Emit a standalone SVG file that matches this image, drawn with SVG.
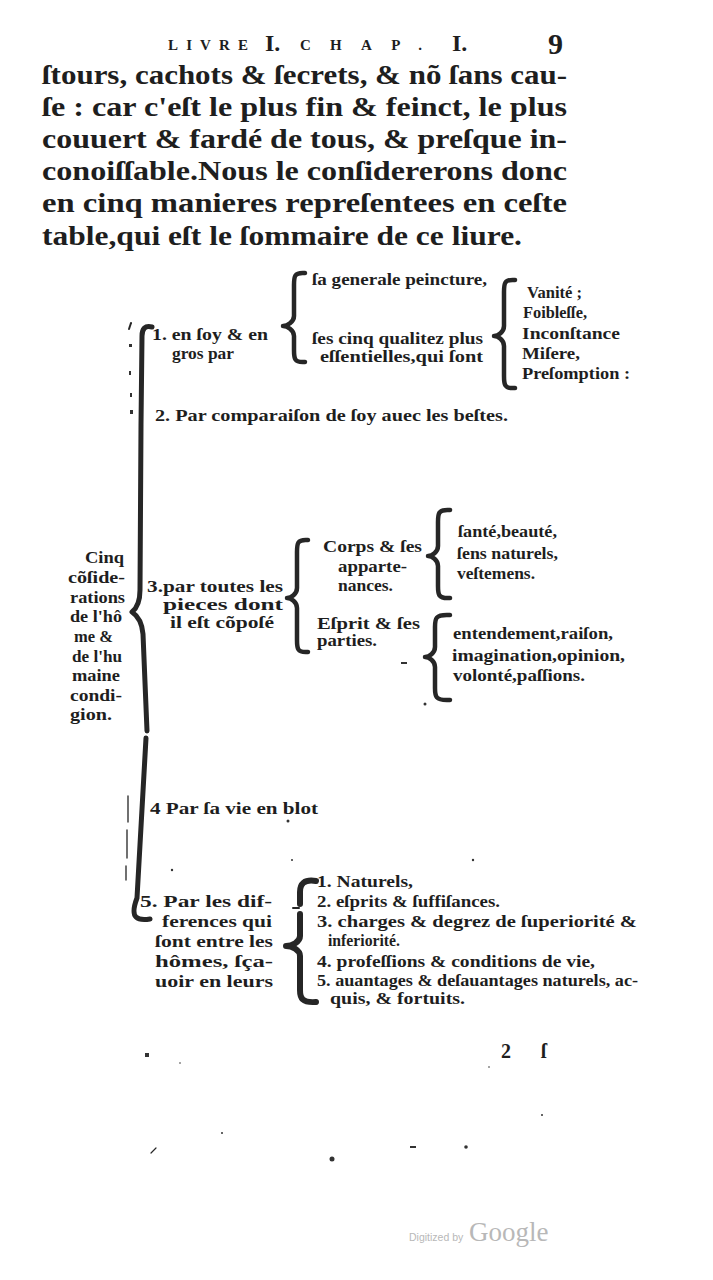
<svg xmlns="http://www.w3.org/2000/svg" width="713" height="1280" viewBox="0 0 713 1280">
<style>
text{font-family:"Liberation Serif","DejaVu Serif",serif;font-weight:bold;fill:#1e1e1e}
.body{font-size:28px}
.s{font-size:16px}
.hd{font-size:15px}
.br{fill:none;stroke:#262626;stroke-width:4.5;stroke-linecap:round;stroke-linejoin:round}
.speck{fill:#333}
.gg{font-family:"Liberation Serif",serif;font-weight:normal;fill:#b8b8b8}
.gs{font-family:"Liberation Sans",sans-serif;font-weight:normal;fill:#b8b8b8}
</style>
<rect width="713" height="1280" fill="#fff"/>

<g id="header">
<text class="hd" x="168" y="50" textLength="80" lengthAdjust="spacing">LIVRE</text>
<text x="265" y="51" font-size="24">I.</text>
<text class="hd" x="300" y="50" textLength="122" lengthAdjust="spacing">CHAP.</text>
<text x="452" y="51" font-size="24">I.</text>
<text x="548" y="54" font-size="30">9</text>
</g>

<g id="intro">
<text class="body" x="42" y="84" textLength="525" lengthAdjust="spacingAndGlyphs">ſtours, cachots &amp; ſecrets, &amp; nõ ſans cau-</text>
<text class="body" x="42" y="116" textLength="525" lengthAdjust="spacingAndGlyphs">ſe : car c'eſt le plus fin &amp; feinct, le plus</text>
<text class="body" x="42" y="148" textLength="525" lengthAdjust="spacingAndGlyphs">couuert &amp; fardé de tous, &amp; preſque in-</text>
<text class="body" x="42" y="180" textLength="525" lengthAdjust="spacingAndGlyphs">conoiſſable.Nous le conſidererons donc</text>
<text class="body" x="42" y="212" textLength="525" lengthAdjust="spacingAndGlyphs">en cinq manieres repreſentees en ceſte</text>
<text class="body" x="42" y="245" textLength="480" lengthAdjust="spacingAndGlyphs">table,qui eſt le ſommaire de ce liure.</text>
</g>

<g id="connectors">
<path class="br" style="stroke-width:5" d="M152,327 C145,325 142,329 142,336 L141,425 L140,590 C140,602 137,608 132,612 C138,616 142,622 143,634 L147,731"/>
<path class="br" style="stroke-width:5" d="M146,738 L137,898 C134,906 133,914 136,917 C139,920 144,920 150,919"/>
<path class="br" d="M305,273 C294,272 294,277 294,285 L294,316 C294,322 287,326 283,326 C287,326 294,330 294,336 L294,350 C294,358 294,363 305,362"/>
<path class="br" d="M515,280 C504,279 504,284 504,292 L504,326 C504,332 498,336 494,336 C498,336 504,340 504,346 L504,376 C504,384 504,389 515,388"/>
<path class="br" d="M308,540 C297,539 297,544 297,552 L297,588 C297,594 291,598 287,598 C291,598 297,602 297,608 L297,640 C297,648 297,653 308,652"/>
<path class="br" d="M450,510 C438,509 438,514 438,522 L438,546 C438,552 432,556 428,556 C432,556 438,560 438,566 L438,586 C438,594 438,599 450,598"/>
<path class="br" d="M450,615 C435,614 435,619 435,627 L435,647 C435,653 429,657 425,657 C429,657 435,661 435,667 L435,688 C435,696 435,701 450,700"/>
<path class="br" style="stroke-width:6" d="M316,881 C304,879 300,884 300,892 L300,904"/>
<path class="br" style="stroke-width:6" d="M300,914 L300,936 C300,942 292,946 286,946 C292,946 300,950 300,956 L300,990 C300,998 302,1003 316,1002"/>
<path class="br" style="stroke-width:2" d="M293,908 L299,908"/>
</g>

<g id="root">
<text class="s" x="85" y="563" textLength="39" lengthAdjust="spacingAndGlyphs">Cinq</text>
<text class="s" x="68" y="583" textLength="57" lengthAdjust="spacingAndGlyphs">cõſide-</text>
<text class="s" x="70" y="603" textLength="55" lengthAdjust="spacingAndGlyphs">rations</text>
<text class="s" x="70" y="622" textLength="52" lengthAdjust="spacingAndGlyphs">de l'hô</text>
<text class="s" x="74" y="642" textLength="39" lengthAdjust="spacingAndGlyphs">me &amp;</text>
<text class="s" x="72" y="662" textLength="50" lengthAdjust="spacingAndGlyphs">de l'hu</text>
<text class="s" x="72" y="681" textLength="48" lengthAdjust="spacingAndGlyphs">maine</text>
<text class="s" x="70" y="701" textLength="52" lengthAdjust="spacingAndGlyphs">condi-</text>
<text class="s" x="70" y="720" textLength="42" lengthAdjust="spacingAndGlyphs">gion.</text>
</g>

<g id="n1">
<text class="s" x="152" y="340" textLength="116" lengthAdjust="spacingAndGlyphs">1. en ſoy &amp; en</text>
<text class="s" x="172" y="359" textLength="62" lengthAdjust="spacingAndGlyphs">gros par</text>
</g>
<g id="n1a">
<text class="s" x="312" y="285" textLength="175" lengthAdjust="spacingAndGlyphs">ſa generale peincture,</text>
</g>
<g id="n1b">
<text class="s" x="312" y="344" textLength="171" lengthAdjust="spacingAndGlyphs">ſes cinq qualitez plus</text>
<text class="s" x="320" y="362" textLength="163" lengthAdjust="spacingAndGlyphs">eſſentielles,qui ſont</text>
</g>
<g id="n1b-list">
<text class="s" x="527" y="298" textLength="55" lengthAdjust="spacingAndGlyphs">Vanité ;</text>
<text class="s" x="523" y="318" textLength="64" lengthAdjust="spacingAndGlyphs">Foibleſſe,</text>
<text class="s" x="522" y="339" textLength="98" lengthAdjust="spacingAndGlyphs">Inconſtance</text>
<text class="s" x="522" y="359" textLength="58" lengthAdjust="spacingAndGlyphs">Miſere,</text>
<text class="s" x="522" y="379" textLength="108" lengthAdjust="spacingAndGlyphs">Preſomption :</text>
</g>

<g id="n2">
<text class="s" x="155" y="421" textLength="353" lengthAdjust="spacingAndGlyphs">2. Par comparaiſon de ſoy auec les beſtes.</text>
</g>

<g id="n3">
<text class="s" x="147" y="592" textLength="136" lengthAdjust="spacingAndGlyphs">3.par toutes les</text>
<text class="s" x="163" y="610" textLength="120" lengthAdjust="spacingAndGlyphs">pieces   dont</text>
<text class="s" x="170" y="628" textLength="104" lengthAdjust="spacingAndGlyphs">il eſt cõpoſé</text>
</g>
<g id="n3a">
<text class="s" x="323" y="552" textLength="99" lengthAdjust="spacingAndGlyphs">Corps &amp; ſes</text>
<text class="s" x="338" y="572" textLength="69" lengthAdjust="spacingAndGlyphs">apparte-</text>
<text class="s" x="338" y="591" textLength="55" lengthAdjust="spacingAndGlyphs">nances.</text>
</g>
<g id="n3a-list">
<text class="s" x="458" y="537" textLength="99" lengthAdjust="spacingAndGlyphs">ſanté,beauté,</text>
<text class="s" x="457" y="559" textLength="101" lengthAdjust="spacingAndGlyphs">ſens naturels,</text>
<text class="s" x="457" y="579" textLength="78" lengthAdjust="spacingAndGlyphs">veſtemens.</text>
</g>
<g id="n3b">
<text class="s" x="317" y="629" textLength="103" lengthAdjust="spacingAndGlyphs">Eſprit &amp; ſes</text>
<text class="s" x="317" y="646" textLength="60" lengthAdjust="spacingAndGlyphs">parties.</text>
</g>
<g id="n3b-list">
<text class="s" x="453" y="639" textLength="160" lengthAdjust="spacingAndGlyphs">entendement,raiſon,</text>
<text class="s" x="452" y="661" textLength="173" lengthAdjust="spacingAndGlyphs">imagination,opinion,</text>
<text class="s" x="453" y="681" textLength="132" lengthAdjust="spacingAndGlyphs">volonté,paſſions.</text>
</g>

<g id="n4">
<text class="s" x="150" y="814" textLength="168" lengthAdjust="spacingAndGlyphs">4 Par ſa vie en blot</text>
</g>

<g id="n5">
<text class="s" x="140" y="907" textLength="132" lengthAdjust="spacingAndGlyphs">5. Par les dif-</text>
<text class="s" x="162" y="927" textLength="110" lengthAdjust="spacingAndGlyphs">ferences qui</text>
<text class="s" x="155" y="947" textLength="118" lengthAdjust="spacingAndGlyphs">ſont entre les</text>
<text class="s" x="155" y="967" textLength="118" lengthAdjust="spacingAndGlyphs">hômes, ſça-</text>
<text class="s" x="155" y="987" textLength="118" lengthAdjust="spacingAndGlyphs">uoir en leurs</text>
</g>
<g id="n5-list">
<text class="s" x="317" y="887" textLength="96" lengthAdjust="spacingAndGlyphs">1. Naturels,</text>
<text class="s" x="317" y="907" textLength="183" lengthAdjust="spacingAndGlyphs">2. eſprits &amp; ſuffiſances.</text>
<text class="s" x="317" y="927" textLength="320" lengthAdjust="spacingAndGlyphs">3. charges &amp; degrez de ſuperiorité &amp;</text>
<text class="s" x="328" y="946" textLength="72" lengthAdjust="spacingAndGlyphs">inferiorité.</text>
<text class="s" x="317" y="967" textLength="278" lengthAdjust="spacingAndGlyphs">4. profeſſions &amp; conditions de vie,</text>
<text class="s" x="317" y="986" textLength="321" lengthAdjust="spacingAndGlyphs">5. auantages &amp; deſauantages naturels, ac-</text>
<text class="s" x="330" y="1004" textLength="135" lengthAdjust="spacingAndGlyphs">quis, &amp; fortuits.</text>
</g>

<g id="signature">
<text x="501" y="1058" font-size="20">2</text>
<text x="541" y="1058" font-size="20">ſ</text>
</g>

<g id="specks">
<path class="br" style="stroke-width:2" d="M131,323 L129,329"/>
<rect class="speck" x="129" y="344" width="3" height="3"/>
<rect class="speck" x="129" y="371" width="2" height="4"/>
<rect class="speck" x="130" y="393" width="2" height="4"/>
<rect class="speck" x="130" y="410" width="3" height="4"/>
<path class="br" style="stroke-width:1.3" d="M128,796 L128,822 M127,830 L127,858 M126,866 L126,880"/>
<rect class="speck" x="401" y="662" width="6" height="2"/>
<circle class="speck" cx="425" cy="704" r="1.5"/>
<circle class="speck" cx="288" cy="821" r="1.5"/>
<circle class="speck" cx="172" cy="870" r="1.2"/>
<circle class="speck" cx="292" cy="860" r="1"/>
<circle class="speck" cx="473" cy="860" r="1.2"/>
<rect class="speck" x="145" y="1053" width="4" height="4"/>
<circle class="speck" cx="180" cy="1063" r="0.8"/>
<circle class="speck" cx="222" cy="1133" r="1"/>
<path class="br" style="stroke-width:1.2" d="M151,1153 L156,1148"/>
<circle class="speck" cx="332" cy="1159" r="2.5"/>
<rect class="speck" x="410" y="1146" width="6" height="2"/>
<circle class="speck" cx="466" cy="1147" r="1.8"/>
<circle class="speck" cx="542" cy="1115" r="1"/>
<circle class="speck" cx="489" cy="1067" r="0.8"/>
</g>

<g id="watermark">
<text class="gs" x="409" y="1241" font-size="10.5">Digitized by</text>
<text class="gg" x="469" y="1241" font-size="27">Google</text>
</g>
</svg>
